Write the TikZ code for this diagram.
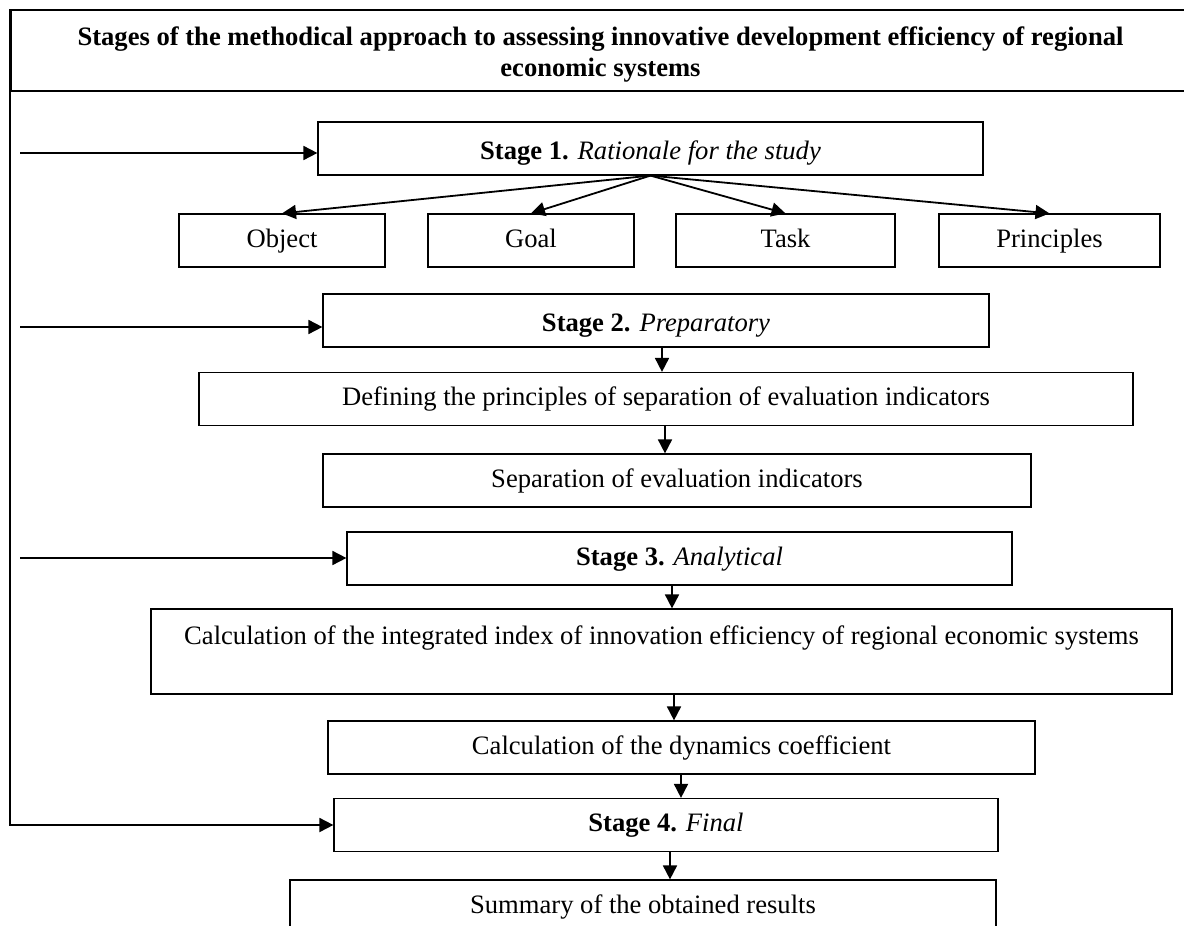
\documentclass[tikz,border=0pt]{standalone}
\usepackage{fontspec}
\setmainfont{Liberation Serif}
\usetikzlibrary{arrows.meta,positioning}

\tikzset{
  stagebox/.style={draw, line width=0.6pt, minimum height=26.5pt, inner sep=2pt,
    text height=9.5pt, text depth=3pt, font=\fontsize{13.3pt}{16pt}\selectfont},
  lowtext/.style={text height=12.5pt, text depth=1.5pt},
  arr/.style={line width=0.9pt, -{Triangle[length=7pt,width=7pt]}},
}

\begin{document}
\begin{tikzpicture}[x=0.5pt,y=-0.5pt]
    \useasboundingbox (0,0) rectangle (1184,926);
    \clip (0,0) rectangle (1184,926);
    % title
    \node[draw, line width=0.9pt, minimum width=589.5pt, minimum height=40.5pt, align=center,
      text height=28.5pt, text depth=3pt,
      font=\bfseries\fontsize{13.3pt}{15.5pt}\selectfont] (title) at (600.5,50.5)
      {Stages of the methodical approach to assessing innovative development efficiency of regional\\economic systems};
    % stage 1
    \node[stagebox, lowtext, minimum width=332.5pt] (s1) at (650.5,148.5) {\textbf{Stage 1.} \textit{Rationale for the study}};
    \node[stagebox, minimum width=103pt] (object) at (282,240.5) {Object};
    \node[stagebox, minimum width=103pt] (goal) at (531,240.5) {Goal};
    \node[stagebox, minimum width=109.5pt] (task) at (785.5,240.5) {Task};
    \node[stagebox, minimum width=110.5pt] (principles) at (1049.5,240.5) {Principles};
    % stage 2
    \node[stagebox, lowtext, minimum width=333pt] (s2) at (656,320.5) {\textbf{Stage 2.} \textit{Preparatory}};
    \node[stagebox, minimum width=467pt] (defining) at (666,399) {Defining the principles of separation of evaluation indicators};
    \node[stagebox, minimum width=354pt] (separation) at (677,480.5) {Separation of evaluation indicators};
    % stage 3
    \node[stagebox, minimum width=332.5pt] (s3) at (679.5,558.5) {\textbf{Stage 3.} \textit{Analytical}};
    \node[stagebox, minimum width=510.5pt, minimum height=42.5pt, align=center, text height=, text depth=] (calc) at (661.5,651.5)
      {Calculation of the integrated index of innovation efficiency of regional economic systems\\\mbox{}};
    \node[stagebox, minimum width=353.5pt] (dynamics) at (681.5,747.5) {Calculation of the dynamics coefficient};
    % stage 4
    \node[stagebox, minimum width=332pt] (s4) at (666,825) {\textbf{Stage 4.} \textit{Final}};
    \node[stagebox, minimum width=353pt] (summary) at (643,906.5) {Summary of the obtained results};
    % inputs from the left
    \coordinate (in1) at (20,153);
    \coordinate (in2) at (20,327);
    \coordinate (in3) at (20,558);
    \foreach \i/\s in {1/s1,2/s2,3/s3}
      \draw[arr] (in\i) -- (in\i -| \s.west);
    \draw[arr] (title.north west) |- (s4.west);
    % fan of stage 1
    \foreach \n in {object,goal,task,principles}
      \draw[arr] (s1.south) -- (\n.north);
    % down the stages
    \draw[arr] (s2.south -| 662,0) -- (defining.north -| 662,0);
    \draw[arr] (defining.south -| 665,0) -- (separation.north -| 665,0);
    \draw[arr] (s3.south -| 672,0) -- (calc.north -| 672,0);
    \draw[arr] (calc.south -| 674,0) -- (dynamics.north -| 674,0);
    \draw[arr] (dynamics.south -| 681,0) -- (s4.north -| 681,0);
    \draw[arr] (s4.south -| 670,0) -- (summary.north -| 670,0);
\end{tikzpicture}
\end{document}
